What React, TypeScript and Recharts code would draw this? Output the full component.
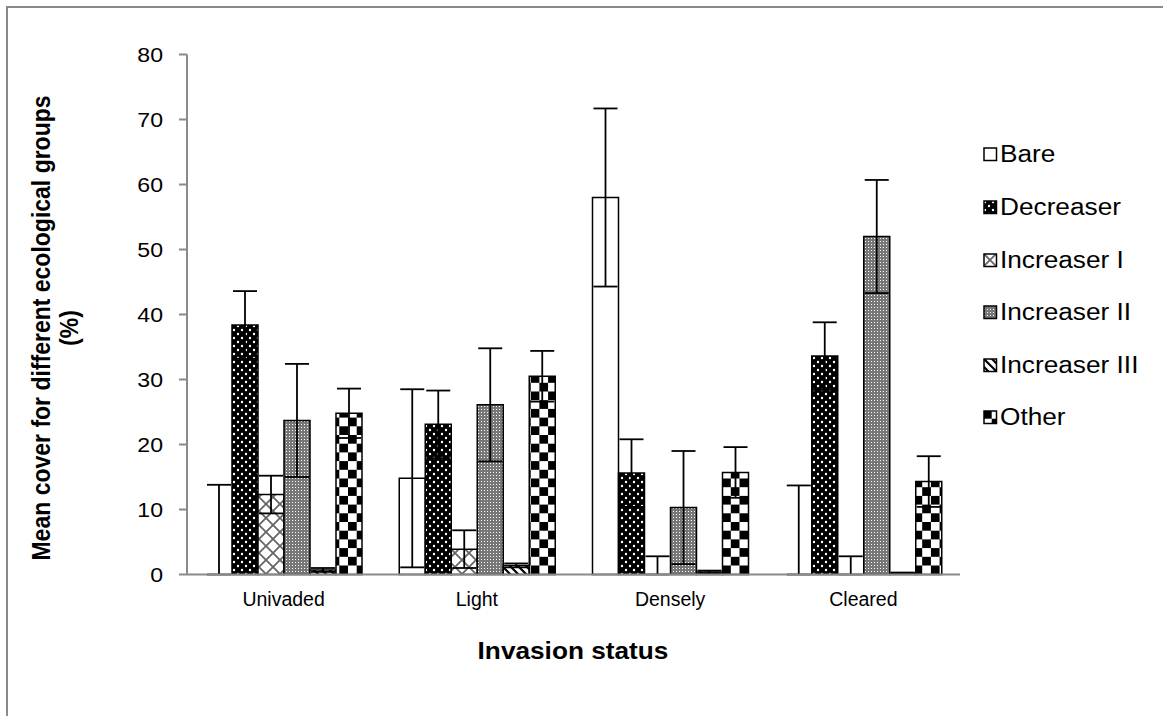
import React from "react";
import { BarChart, Bar, XAxis, YAxis, ErrorBar, Legend, Cell } from "recharts";

const categories = ["Univaded", "Light", "Densely", "Cleared"];
const seriesNames = ["Bare", "Decreaser", "Increaser I", "Increaser II", "Increaser III", "Other"];
const bare = [0, 14.8, 58.0, 0];
const bareErr = [13.8, 13.7, 13.7, 13.7];
const decreaser = [38.4, 23.1, 15.6, 33.6];
const decreaserErr = [5.2, 5.2, 5.2, 5.2];
const increaserI = [12.3, 3.9, 0, 0];
const increaserIErr = [2.9, 2.9, 2.8, 2.8];
const increaserII = [23.7, 26.1, 10.3, 52.0];
const increaserIIErr = [8.7, 8.7, 8.7, 8.7];
const increaserIII = [0.7, 1.4, 0.4, 0.2];
const increaserIIIErr = [0.3, 0.3, 0.2, 0.1];
const other = [24.8, 30.5, 15.7, 14.3];
const otherErr = [3.8, 3.9, 3.9, 3.9];
const yTicks = [0, 10, 20, 30, 40, 50, 60, 70, 80];
const boundaryTicks = [0, 1, 2, 3, 4];

const values = [bare, decreaser, increaserI, increaserII, increaserIII, other];
const errors = [bareErr, decreaserErr, increaserIErr, increaserIIErr, increaserIIIErr, otherErr];
const keys = ["s0", "s1", "s2", "s3", "s4", "s5"];
const fills = ["#ffffff", "url(#pDec)", "url(#pInc1)", "url(#pInc2)", "url(#pInc3)", "url(#pOther)"];

// zero-valued bars: negligible height so that the upper error bar is still drawn
const EPS = 0.0005;
const data = categories.map((cat, i) => {
  const row: any = { cat };
  keys.forEach((k, j) => {
    const v = values[j][i];
    const e = errors[j][i];
    const vv = v === 0 ? EPS : v;
    row[k] = vv;
    row[k + "e"] = [Math.min(e, vv), e];
  });
  return row;
});

const FONT = "'Liberation Sans', Arial, sans-serif";
const SX = 1.14;

function Patterns() {
  return (
    <svg width={0} height={0} style={{ position: "absolute" }}>
      <defs>
        <pattern id="pDec" width={8} height={8} patternUnits="userSpaceOnUse">
          <rect width={8} height={8} fill="#000" />
          <circle cx={2} cy={2} r={1.2} fill="#fff" />
          <circle cx={6} cy={6} r={1.2} fill="#fff" />
        </pattern>
        <pattern id="pInc1" width={14} height={14} patternUnits="userSpaceOnUse">
          <rect width={14} height={14} fill="#fff" />
          <path d="M0,0 L14,14 M14,0 L0,14" stroke="#666" strokeWidth={1.8} />
        </pattern>
        <pattern id="pInc2" width={3} height={3} patternUnits="userSpaceOnUse">
          <rect width={3} height={3} fill="#777" />
          <rect x={1} y={1} width={1} height={1} fill="#fff" />
        </pattern>
        <pattern id="pInc3" width={8} height={8} patternUnits="userSpaceOnUse">
          <rect width={8} height={8} fill="#fff" />
          <path d="M-2,-2 L10,10 M-2,6 L2,10 M6,-2 L10,2" stroke="#000" strokeWidth={2.2} />
        </pattern>
        <pattern id="pOther" width={17.4} height={17.4} patternUnits="userSpaceOnUse">
          <rect width={17.4} height={17.4} fill="#fff" />
          <rect x={0} y={0} width={8.7} height={8.7} fill="#000" />
          <rect x={8.7} y={8.7} width={8.7} height={8.7} fill="#000" />
        </pattern>
      </defs>
    </svg>
  );
}

function LegendContent() {
  return (
    <div style={{ fontFamily: FONT, fontSize: 23, color: "#000", lineHeight: 1 }}>
      {seriesNames.map((n, i) => (
        <div key={n} style={{ height: 52.6, display: "flex", alignItems: "center", whiteSpace: "nowrap" }}>
          <svg width={15} height={15} style={{ marginRight: 2, flex: "none" }}>
            <rect x={1} y={1} width={12.5} height={12.5} fill={fills[i]} stroke="#000" strokeWidth={1.5} />
          </svg>
          <span style={{ display: "inline-block", transform: `scaleX(${SX})`, transformOrigin: "0 50%" }}>{n}</span>
        </div>
      ))}
    </div>
  );
}

function YTitle() {
  const st = { fontFamily: FONT, fontSize: 23, fontWeight: 700 } as any;
  return (
    <g>
      <text transform={`translate(41 328) scale(${SX} 1) rotate(-90)`} textAnchor="middle" dominantBaseline="central" style={st} fill="#000">
        Mean cover for different ecological groups
      </text>
      <text transform={`translate(69 328) scale(${SX} 1) rotate(-90)`} textAnchor="middle" dominantBaseline="central" style={st} fill="#000">
        (%)
      </text>
    </g>
  );
}

function XTitle() {
  return (
    <text transform={`translate(573 651) scale(${SX} 1)`} textAnchor="middle" dominantBaseline="central"
      style={{ fontFamily: FONT, fontSize: 23, fontWeight: 700 }} fill="#000">
      Invasion status
    </text>
  );
}

function CatTick(p: any) {
  const { x, y, payload } = p;
  return (
    <text x={x} y={y} textAnchor="middle" dy="0.71em"
      style={{ fontFamily: FONT, fontSize: 19.5 }} fill="#000">
      {payload.value}
    </text>
  );
}

function YTick(p: any) {
  const { x, y, payload } = p;
  return (
    <text transform={`translate(${x} ${y}) scale(1.1 1)`} textAnchor="end" dy="0.355em"
      style={{ fontFamily: FONT, fontSize: 21 }} fill="#000">
      {payload.value}
    </text>
  );
}

export default function App() {
  return (
    <div style={{ position: "fixed", left: 0, top: 0, width: 1163, height: 716, overflow: "hidden", background: "#fff" }}>
      <Patterns />
      <div style={{ position: "absolute", left: 6, top: 6, width: 1300, height: 900, border: "2px solid #8a8a8a" }} />
      <div style={{ position: "absolute", left: 0, top: 0 }}>
        <BarChart width={1163} height={716} data={data} barSize={26} barGap={0}
          margin={{ top: 54.5, right: 203, bottom: 139.5, left: 127 }}>
          <XAxis xAxisId="b" type="number" domain={[0, 4]} ticks={boundaryTicks} height={1}
            allowDataOverflow tick={false} tickSize={9} stroke="#8a8a8a"
            axisLine={{ stroke: "#8a8a8a", strokeWidth: 2 }} tickLine={{ stroke: "#8a8a8a", strokeWidth: 2 }} />
          <XAxis xAxisId="cat" dataKey="cat" height={1} tickLine={false} axisLine={false}
            tickSize={0} tickMargin={17} tick={<CatTick />} />
          <YAxis domain={[0, 80]} ticks={yTicks} width={60} tickSize={8} tickMargin={16} interval={0}
            stroke="#8a8a8a"
            axisLine={{ stroke: "#8a8a8a", strokeWidth: 2 }} tickLine={{ stroke: "#8a8a8a", strokeWidth: 2 }}
            tick={<YTick />} label={<YTitle />} />
          <Legend layout="vertical" align="center" verticalAlign="middle"
            wrapperStyle={{ left: 983, top: 128.7, width: 180 }} content={<LegendContent />} />
          {keys.map((k, j) => (
            <Bar key={k} xAxisId="cat" dataKey={k} name={seriesNames[j]} fill={fills[j]}
              stroke="#000" strokeWidth={1.5} isAnimationActive={false}>
              {values[j].map((v, i) => (
                <Cell key={i} stroke={v === 0 ? "none" : "#000"} />
              ))}
              <ErrorBar dataKey={k + "e"} width={12} stroke="#000" strokeWidth={1.8} />
            </Bar>
          ))}
          <XTitle />
        </BarChart>
      </div>
    </div>
  );
}
